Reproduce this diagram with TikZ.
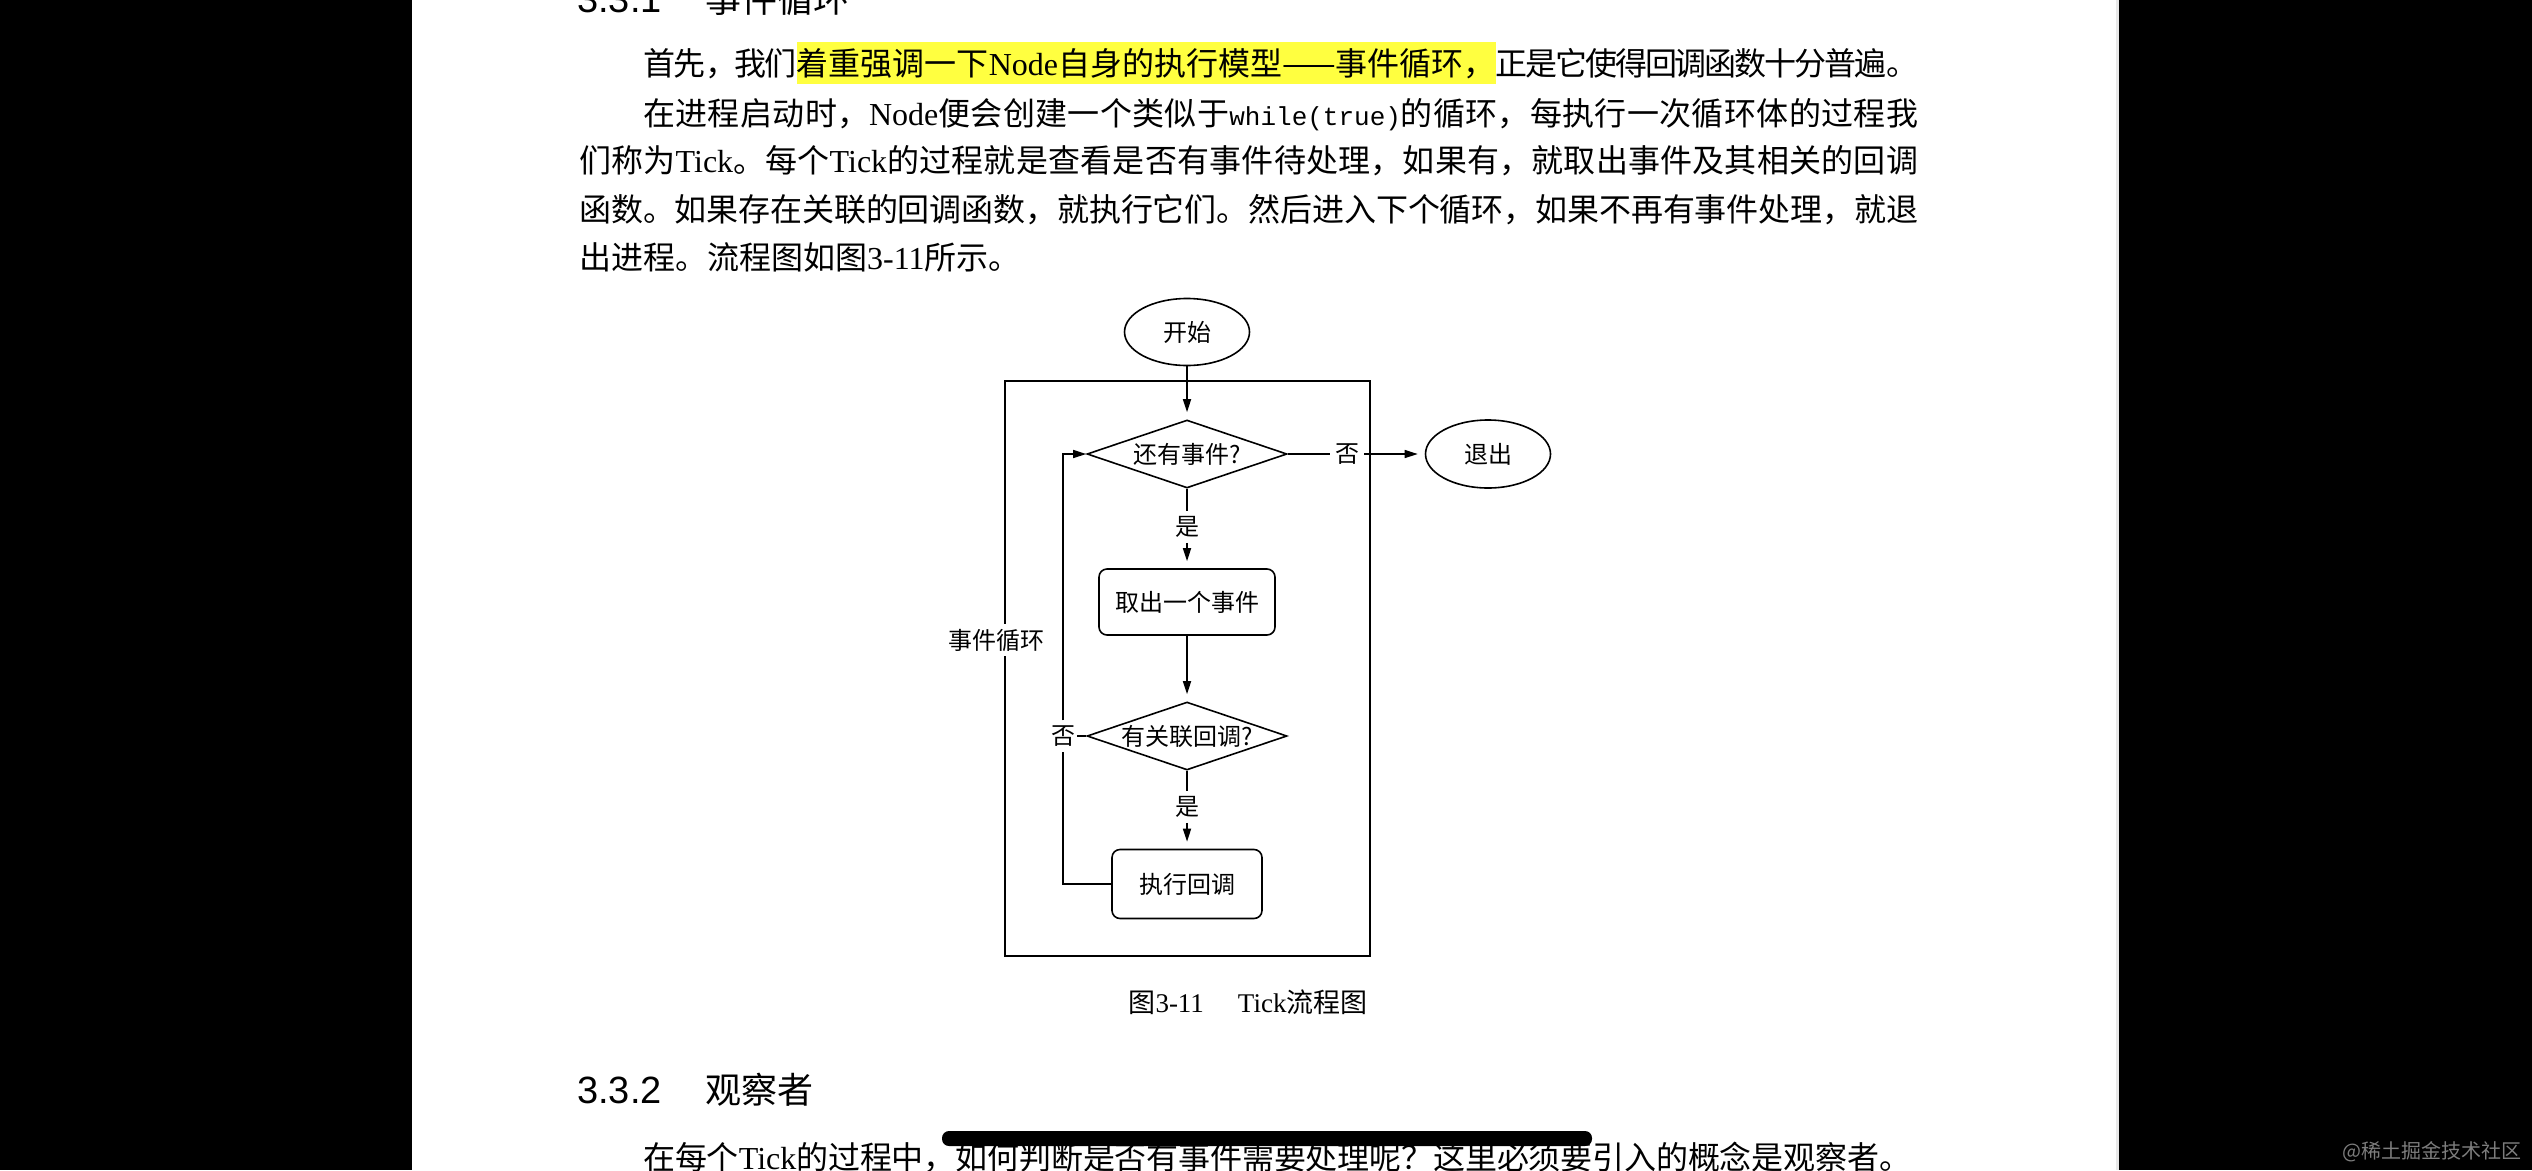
\documentclass[tikz,border=0pt]{standalone}
\usepackage{fontspec}
\usepackage{tikz}
\usetikzlibrary{shapes.geometric,arrows.meta}

\setmainfont{Noto Sans CJK SC}
\newfontfamily\lat{Liberation Serif}
\newfontfamily\mono{Liberation Mono}
\newfontfamily\hsans{Liberation Sans}

\definecolor{marker}{RGB}{255,255,64}
\definecolor{pageedge}{RGB}{232,232,232}
\definecolor{wmgray}{RGB}{125,125,125}

\XeTeXlinebreaklocale "zh"
\XeTeXlinebreakskip=0pt plus 4pt minus 3pt
\setlength{\fboxsep}{0pt}

\newcommand{\bodyfont}{\fontsize{32}{40}\selectfont}
\newcommand{\chartfont}{\fontsize{24}{28}\selectfont}
\newcommand{\headfont}{\fontsize{36}{40}\selectfont}
% 两端对齐的一行正文
\newcommand{\fullline}[2]{\parbox[b]{#1}{\parindent=0pt\parfillskip=0pt\relax\noindent #2\par}}

\tikzset{
  bodyline/.style={anchor=base west, inner sep=0pt, font=\bodyfont},
  headnum/.style={anchor=base west, inner sep=0pt, font=\hsans\fontsize{38}{40}\selectfont},
  headtxt/.style={anchor=base west, inner sep=0pt, font=\headfont},
  flow/.style={line width=1.6pt},
  terminal/.style={ellipse, draw, flow, minimum width=125pt, minimum height=67pt, inner sep=0pt, font=\chartfont},
  decision/.style={diamond, draw, flow, aspect=2.9, minimum width=200pt, minimum height=68pt, inner sep=0pt, font=\chartfont},
  process/.style={rectangle, draw, flow, rounded corners=8pt, inner sep=0pt, font=\chartfont},
  tag/.style={inner sep=5pt, font=\chartfont},
  arr/.style={flow, -{Triangle[length=13pt,width=8pt]}, shorten >=7pt},
}

\begin{document}
\begin{tikzpicture}[x=1pt, y=-1pt]
  \useasboundingbox (0,0) rectangle (2532,1170);
  % 屏幕和书页
  \fill[black] (0,0) rectangle (2532,1170);
  \fill[white] (412,0) rectangle (2118,1170);
  \fill[pageedge] (2116,0) rectangle (2119,1170);

  % 3.3.1 标题（被截去上半）
  \node[headnum] (sec1num) at (577,12) {3.3.1};
  \node[headtxt] (sec1) at (705,12) {事件循环};

  % 正文
  \node[bodyline] (line1) at (643,75) {\fullline{1275pt}{首先，我们\colorbox{marker}{\rule[-9pt]{0pt}{42pt}着重强调一下{\lat Node}自身的执行模型——事件循环，}正是它使得回调函数十分普遍。}};
  \node[bodyline] (line2) at (643,125) {\fullline{1275pt}{在进程启动时，{\lat Node}便会创建一个类似于{\mono\fontsize{26}{30}\selectfont while(true)}的循环，每执行一次循环体的过程我}};
  \node[bodyline] (line3) at (579,172) {\fullline{1339pt}{们称为{\lat Tick}。每个{\lat Tick}的过程就是查看是否有事件待处理，如果有，就取出事件及其相关的回调}};
  \node[bodyline] (line4) at (579,221) {\fullline{1339pt}{函数。如果存在关联的回调函数，就执行它们。然后进入下个循环，如果不再有事件处理，就退}};
  \node[bodyline] (line5) at (579,269) {出进程。流程图如图{\lat 3-11}所示。};

  % 流程图
  \node[terminal] (start) at (1187,332) {开始};
  \node[decision] (hasevent) at (1187,454) {还有事件?};
  \node[terminal, minimum height=68pt] (quit) at (1488,454) {退出};
  \node[process, minimum width=176pt, minimum height=66pt] (take) at (1187,602) {取出一个事件};
  \node[decision] (hascb) at (1187,736) {有关联回调?};
  \node[process, minimum width=150pt, minimum height=69pt] (exec) at (1187,884) {执行回调};

  % 是/否
  \node[tag] (no1) at (1347,454) {否};
  \node[tag] (yes1) at (1187,527) {是};
  \node[tag] (yes2) at (1187,807) {是};
  \node[tag, inner xsep=2pt] (no2) at (1063,736) {否};

  % 外框
  \draw[flow] (1005,381) rectangle (1370,956);
  \node[tag, fill=white, inner xsep=0pt] (looplbl) at (996,640) {事件循环};

  % 连线
  \draw[arr] (start) -- (hasevent);
  \draw[flow] (hasevent) -- (yes1);
  \draw[arr] (yes1) -- (take);
  \draw[flow] (hasevent) -- (no1);
  \draw[arr] (no1) -- (quit);
  \draw[arr] (take) -- (hascb);
  \draw[flow] (hascb) -- (yes2);
  \draw[arr] (yes2) -- (exec);
  \draw[flow] (hascb) -- (no2);
  \draw[flow] (exec) -| (no2);
  \draw[arr, shorten >=0pt] (no2) |- (hasevent);

  % 图题
  \node[inner sep=0pt, font=\fontsize{27}{30}\selectfont] (caption) at (1248,1002) {图{\lat 3-11}\hspace{34pt}{\lat Tick}流程图};

  % 3.3.2 标题
  \node[headnum] (sec2num) at (577,1103) {3.3.2};
  \node[headtxt] (sec2) at (705,1103) {观察者};
  \node[bodyline] (line6) at (643,1169) {\fullline{1268pt}{在每个{\lat Tick}的过程中，如何判断是否有事件需要处理呢？这里必须要引入的概念是观察者。}};

  % 滚动条和水印
  \fill[black, rounded corners=7pt] (942,1131) rectangle (1592,1146);
  \node[anchor=east, inner sep=0pt, text=wmgray, font=\fontsize{20}{22}\selectfont] (mark) at (2522,1152) {@稀土掘金技术社区};
\end{tikzpicture}
\end{document}
